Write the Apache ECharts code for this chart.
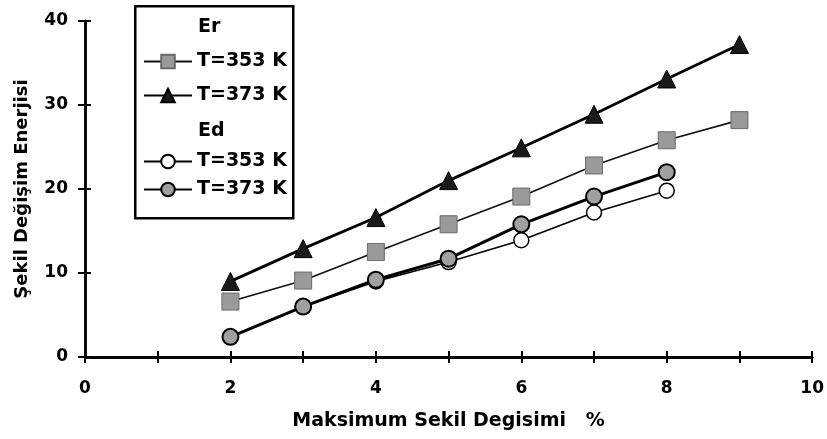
<!DOCTYPE html>
<html><head><meta charset="utf-8">
<script src="https://cdn.jsdelivr.net/npm/echarts@6/dist/echarts.min.js"></script>
<style>html,body{margin:0;padding:0;background:#fff}#c{width:827px;height:439px}</style>
</head><body><div id="c"></div>
<script>
const xValues = [2, 3, 4, 5, 6, 7, 8, 9];
const er353 = [6.6, 9.1, 12.5, 15.8, 19.1, 22.8, 25.8, 28.2];
const er373 = [9.0, 12.9, 16.6, 21.0, 24.9, 28.9, 33.1, 37.2];
const ed353 = [2.4, 6.0, 9.0, 11.3, 13.9, 17.2, 19.8];
const ed373 = [2.4, 6.0, 9.2, 11.7, 15.8, 19.1, 22.0];
const seriesNames = ['Er T=353 K', 'Er T=373 K', 'Ed T=353 K', 'Ed T=373 K'];
const xTickLabels = ['0', '2', '4', '6', '8', '10'];
const yTickLabels = ['0', '10', '20', '30', '40'];
const xTitle = 'Maksimum Sekil Degisimi   %';
const yTitle = 'Şekil Değişim Enerjisi';

const FONT = '"DejaVu Sans", "Liberation Sans", Arial, sans-serif';
const pair = (xs, ys) => ys.map((v, i) => [xs[i], v]);
const chart = echarts.init(document.getElementById('c'));

const axisCommon = {
  axisLine: { lineStyle: { color: '#000', width: 2.5 } },
  splitLine: { show: false }
};
const legendText = { fontFamily: FONT, fontWeight: 'bold', fontSize: 19, color: '#000' };
const fmt = n => n.split(' ').slice(1).join(' ');

chart.setOption({
  animation: false,
  backgroundColor: '#fff',
  grid: { left: 85, right: 14, top: 21, bottom: 82 },
  xAxis: [
    Object.assign({}, axisCommon, {
      type: 'value', min: 0, max: 10, interval: 1,
      axisTick: { show: true, length: 6, lineStyle: { color: '#000', width: 2 } },
      axisLabel: {
        margin: 23, fontFamily: FONT, fontWeight: 'bold', fontSize: 17, color: '#000',
        formatter: v => (xTickLabels.indexOf(String(v)) >= 0 ? String(v) : '')
      },
      name: xTitle, nameLocation: 'middle', nameGap: 55,
      nameTextStyle: { fontFamily: FONT, fontWeight: 'bold', fontSize: 19, color: '#000' }
    }),
    Object.assign({}, axisCommon, {
      type: 'value', min: 0, max: 10, interval: 1, position: 'bottom',
      axisTick: { show: true, inside: true, length: 6, lineStyle: { color: '#000', width: 2 } },
      axisLabel: { show: false }
    })
  ],
  yAxis: [
    Object.assign({}, axisCommon, {
      type: 'value', min: 0, max: 40, interval: 10,
      axisTick: { show: true, length: 7, lineStyle: { color: '#000', width: 2 } },
      axisLabel: {
        margin: 17, fontFamily: FONT, fontWeight: 'bold', fontSize: 17, color: '#000',
        formatter: v => (yTickLabels.indexOf(String(v)) >= 0 ? String(v) : '')
      },
      name: yTitle, nameLocation: 'middle', nameGap: 54, nameRotate: 90,
      nameTextStyle: { fontFamily: FONT, fontWeight: 'bold', fontSize: 18, color: '#000' }
    }),
    Object.assign({}, axisCommon, {
      type: 'value', min: 0, max: 40, interval: 10, position: 'left',
      axisTick: { show: true, inside: true, length: 6, lineStyle: { color: '#000', width: 2 } },
      axisLabel: { show: false }
    })
  ],
  legend: [
    {
      data: [seriesNames[0], seriesNames[1]], orient: 'vertical',
      left: 143, top: 52, itemWidth: 48, itemHeight: 17, itemGap: 15,
      formatter: fmt, textStyle: legendText, padding: 0
    },
    {
      data: [seriesNames[2], seriesNames[3]], orient: 'vertical',
      left: 143, top: 152, itemWidth: 48, itemHeight: 17, itemGap: 9,
      formatter: fmt, textStyle: legendText, padding: 0
    }
  ],
  graphic: [
    { type: 'rect', left: 134, top: 5, shape: { width: 158, height: 212 },
      style: { fill: 'rgba(0,0,0,0)', stroke: '#000', lineWidth: 2.5 }, z: 100 },
    { type: 'text', left: 198, top: 18, style: { text: 'Er', font: 'bold 19px ' + FONT, fill: '#000' }, z: 100 },
    { type: 'text', left: 198, top: 122, style: { text: 'Ed', font: 'bold 19px ' + FONT, fill: '#000' }, z: 100 }
  ],
  series: [
    { name: seriesNames[0], type: 'line', data: pair(xValues, er353),
      symbol: 'rect', symbolSize: 17, lineStyle: { color: '#111', width: 1.6 },
      itemStyle: { color: '#9a9a9a', borderColor: '#6a6a6a', borderWidth: 1 } },
    { name: seriesNames[1], type: 'line', data: pair(xValues, er373),
      symbol: 'triangle', symbolSize: 18, lineStyle: { color: '#000', width: 2.8 },
      itemStyle: { color: '#1a1a1a', borderColor: '#000', borderWidth: 1 } },
    { name: seriesNames[2], type: 'line', data: pair(xValues, ed353),
      symbol: 'circle', symbolSize: 15, lineStyle: { color: '#000', width: 1.6 },
      itemStyle: { color: '#fff', borderColor: '#000', borderWidth: 1.5 } },
    { name: seriesNames[3], type: 'line', data: pair(xValues, ed373),
      symbol: 'circle', symbolSize: 16, lineStyle: { color: '#000', width: 3 },
      itemStyle: { color: '#a0a0a0', borderColor: '#000', borderWidth: 2 } }
  ]
});
</script>
</body></html>
